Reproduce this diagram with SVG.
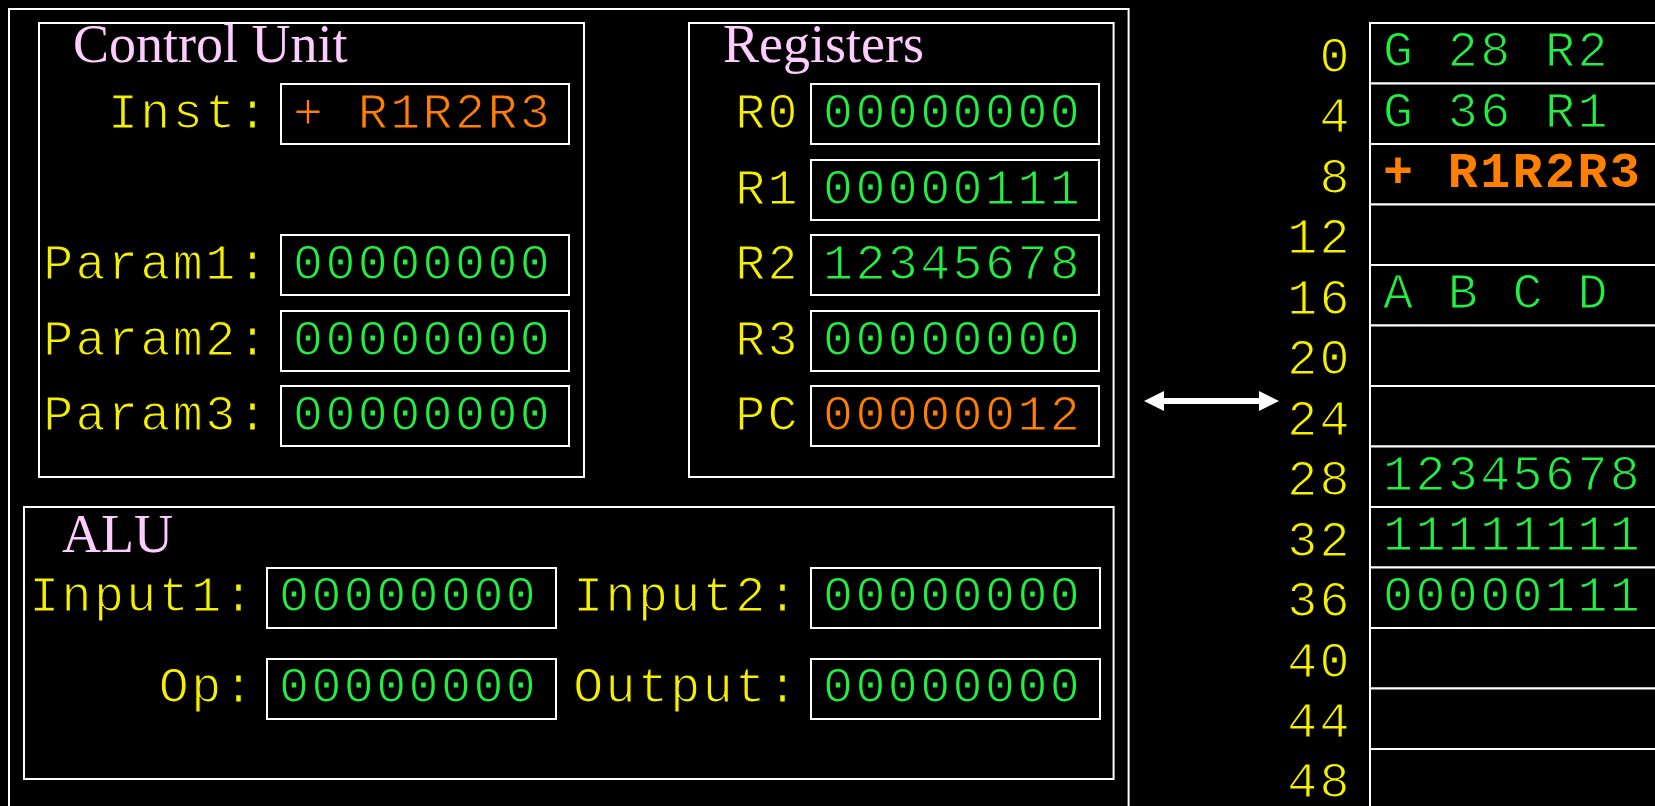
<svg xmlns="http://www.w3.org/2000/svg" width="1655" height="806" viewBox="0 0 1655 806">
<style>
.bx{fill:none;stroke:#fff;stroke-width:2}
.vb{fill:#000;stroke:#fff;stroke-width:2}
.ttl{font-family:"Liberation Serif","Times New Roman",serif;font-size:54px;fill:#ffccff}
.lbl,.val{font-family:"Liberation Mono","Courier New",monospace;font-size:50px;letter-spacing:2.4px;stroke:#000;stroke-width:1.2px}
.lbl{fill:#f5f000}
.val{fill:#22ee44}
.org{fill:#ff7f00}
.bold{font-weight:bold;stroke:none}
.end{text-anchor:end}
</style>
<defs>
<marker id="ah" viewBox="0 0 20 20" refX="10" refY="10" markerWidth="20" markerHeight="20" markerUnits="userSpaceOnUse" orient="auto-start-reverse">
<path d="M0,0 L20,10 L0,20 Z" fill="#fff"/>
</marker>
</defs>
<rect width="1655" height="806" fill="#000"/>

<g id="cpu">
<rect class="bx" x="9" y="9" width="1119.6" height="820"/>
</g>

<g id="control-unit">
<rect class="bx" x="39" y="23" width="545" height="454"/>
<text class="ttl" x="73" y="62">Control Unit</text>
<text class="lbl end" x="270" y="128">Inst:</text>
<rect class="vb" x="281" y="84" width="288" height="60"/>
<text class="val org" x="293" y="128">+ R1R2R3</text>
<text class="lbl end" x="270" y="279">Param1:</text>
<rect class="vb" x="281" y="235" width="288" height="60"/>
<text class="val" x="293" y="279">00000000</text>
<text class="lbl end" x="270" y="355">Param2:</text>
<rect class="vb" x="281" y="311" width="288" height="60"/>
<text class="val" x="293" y="355">00000000</text>
<text class="lbl end" x="270" y="430">Param3:</text>
<rect class="vb" x="281" y="386" width="288" height="60"/>
<text class="val" x="293" y="430">00000000</text>
</g>

<g id="registers">
<rect class="bx" x="689" y="23" width="424.6" height="454"/>
<text class="ttl" x="723" y="62">Registers</text>
<text class="lbl end" x="800" y="128">R0</text>
<rect class="vb" x="811" y="84" width="288" height="60"/>
<text class="val" x="823" y="128">00000000</text>
<text class="lbl end" x="800" y="204">R1</text>
<rect class="vb" x="811" y="160" width="288" height="60"/>
<text class="val" x="823" y="204">00000111</text>
<text class="lbl end" x="800" y="279">R2</text>
<rect class="vb" x="811" y="235" width="288" height="60"/>
<text class="val" x="823" y="279">12345678</text>
<text class="lbl end" x="800" y="355">R3</text>
<rect class="vb" x="811" y="311" width="288" height="60"/>
<text class="val" x="823" y="355">00000000</text>
<text class="lbl end" x="800" y="430">PC</text>
<rect class="vb" x="811" y="386" width="288" height="60"/>
<text class="val org" x="823" y="430">00000012</text>
</g>

<g id="alu">
<rect class="bx" x="24" y="507" width="1089.6" height="272"/>
<text class="ttl" x="62" y="552">ALU</text>
<text class="lbl end" x="256" y="611">Input1:</text>
<rect class="vb" x="267" y="568" width="289" height="60"/>
<text class="val" x="279" y="611">00000000</text>
<text class="lbl end" x="256" y="702">Op:</text>
<rect class="vb" x="267" y="659" width="289" height="60"/>
<text class="val" x="279" y="702">00000000</text>
<text class="lbl end" x="800" y="611">Input2:</text>
<rect class="vb" x="811" y="568" width="289" height="60"/>
<text class="val" x="823" y="611">00000000</text>
<text class="lbl end" x="800" y="702">Output:</text>
<rect class="vb" x="811" y="659" width="289" height="60"/>
<text class="val" x="823" y="702">00000000</text>
</g>

<g id="memory">
<rect class="vb" x="1370" y="23" width="300" height="60.5"/>
<rect class="vb" x="1370" y="83.5" width="300" height="60.5"/>
<rect class="vb" x="1370" y="144" width="300" height="60.5"/>
<rect class="vb" x="1370" y="204.5" width="300" height="60.5"/>
<rect class="vb" x="1370" y="265" width="300" height="60.5"/>
<rect class="vb" x="1370" y="325.5" width="300" height="60.5"/>
<rect class="vb" x="1370" y="386" width="300" height="60.5"/>
<rect class="vb" x="1370" y="446.5" width="300" height="60.5"/>
<rect class="vb" x="1370" y="507" width="300" height="60.5"/>
<rect class="vb" x="1370" y="567.5" width="300" height="60.5"/>
<rect class="vb" x="1370" y="628" width="300" height="60.5"/>
<rect class="vb" x="1370" y="688.5" width="300" height="60.5"/>
<rect class="vb" x="1370" y="749" width="300" height="60.5"/>
<text class="lbl end" x="1352" y="71.5">0</text>
<text class="lbl end" x="1352" y="132">4</text>
<text class="lbl end" x="1352" y="192.5">8</text>
<text class="lbl end" x="1352" y="253">12</text>
<text class="lbl end" x="1352" y="313.5">16</text>
<text class="lbl end" x="1352" y="374">20</text>
<text class="lbl end" x="1352" y="434.5">24</text>
<text class="lbl end" x="1352" y="495">28</text>
<text class="lbl end" x="1352" y="555.5">32</text>
<text class="lbl end" x="1352" y="616">36</text>
<text class="lbl end" x="1352" y="676.5">40</text>
<text class="lbl end" x="1352" y="737">44</text>
<text class="lbl end" x="1352" y="797">48</text>
<text class="val" x="1383" y="66">G 28 R2</text>
<text class="val" x="1383" y="126.5">G 36 R1</text>
<text class="val org bold" x="1383" y="187">+ R1R2R3</text>
<text class="val" x="1383" y="308">A B C D</text>
<text class="val" x="1383" y="489.5">12345678</text>
<text class="val" x="1383" y="550">11111111</text>
<text class="val" x="1383" y="610.5">00000111</text>
</g>

<g id="connectors">
<line x1="1154" y1="401" x2="1269" y2="401" stroke="#fff" stroke-width="6" marker-start="url(#ah)" marker-end="url(#ah)"/>
</g>
</svg>
